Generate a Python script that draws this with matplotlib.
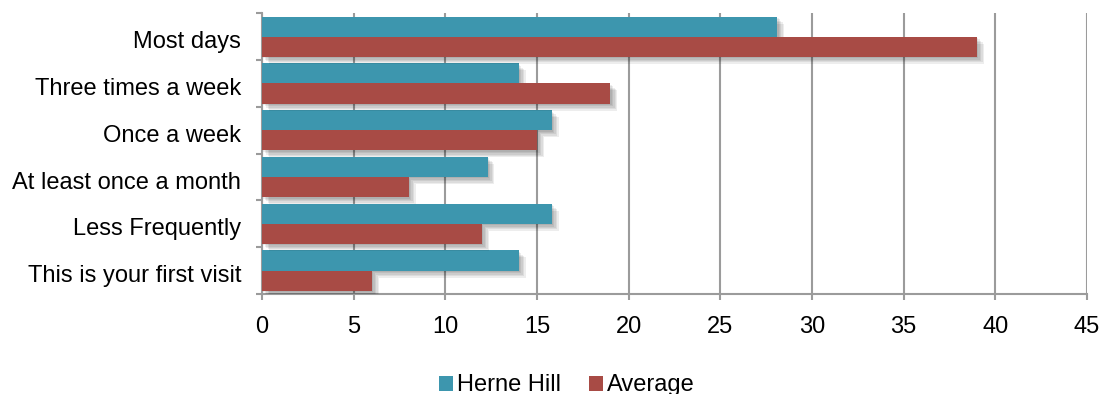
import numpy as np
import matplotlib
matplotlib.use("Agg")
import matplotlib.pyplot as plt
import matplotlib.patheffects as pe
import matplotlib.transforms as mtransforms

plt.rcParams['font.family'] = ['Liberation Sans', 'DejaVu Sans']

# visit frequency, top to bottom
categories = ["Most days", "Three times a week", "Once a week",
              "At least once a month", "Less Frequently", "This is your first visit"]
herne_hill = [28.1, 14.0, 15.8, 12.3, 15.8, 14.0]
average = [39.0, 19.0, 15.0, 8.0, 12.0, 6.0]
xticks = list(range(0, 50, 5))

teal = "#3D96AE"
brick = "#A84B45"
grey = "#9B9B9B"

# soft drop shadow built from a few stacked offsets
shadow = [pe.SimplePatchShadow(offset=(k, -k), shadow_rgbFace="black", alpha=0.07)
          for k in (1, 2, 3, 4, 5)] + [pe.Normal()]

fig = plt.figure(figsize=(11.04, 3.94), dpi=100)
ax = fig.add_axes([262 / 1104, 1 - 294 / 394, (1087 - 262) / 1104, (294 - 13.3) / 394])

y = np.arange(len(categories))
h = 0.43
b1 = ax.barh(y - h / 2, herne_hill, height=h, color=teal, label="Herne Hill", zorder=3)
b2 = ax.barh(y + h / 2, average, height=h, color=brick, label="Average", zorder=3)
for bar in list(b1) + list(b2):
    bar.set_path_effects(shadow)

ax.set_xlim(0, 45)
ax.set_ylim(len(categories) - 0.5, -0.5)
ax.set_xticks(xticks)
ax.set_yticks(y)
ax.set_yticklabels(categories)
ax.set_yticks(np.arange(len(categories) + 1) - 0.5, minor=True)

ax.grid(axis="x", color=grey, linewidth=1.5, zorder=0)
ax.set_axisbelow(True)
for s in ("top", "right"):
    ax.spines[s].set_visible(False)
for s in ("left", "bottom"):
    ax.spines[s].set_color(grey)
    ax.spines[s].set_linewidth(1.5)

ax.tick_params(axis="y", which="major", length=0, pad=15, labelsize=17)
ax.tick_params(axis="y", which="minor", length=4.5, width=1.5, color=grey)
ax.tick_params(axis="x", which="major", length=4.5, width=1.5, color=grey,
               pad=11, labelsize=17)

# category labels sit a little below the band centre
shift = mtransforms.ScaledTranslation(0, -3 / 100, fig.dpi_scale_trans)
for lab in ax.get_yticklabels():
    lab.set_transform(lab.get_transform() + shift)

leg = fig.legend(handles=[b1, b2], loc="center", bbox_to_anchor=(567 / 1104, 0.022),
                 ncol=2, frameon=False, fontsize=17, handlelength=0.6, handleheight=0.6,
                 handletextpad=0.15, columnspacing=1.2)
for p in leg.get_patches():
    p.set_path_effects([])

fig.savefig("out.png", dpi=100)
